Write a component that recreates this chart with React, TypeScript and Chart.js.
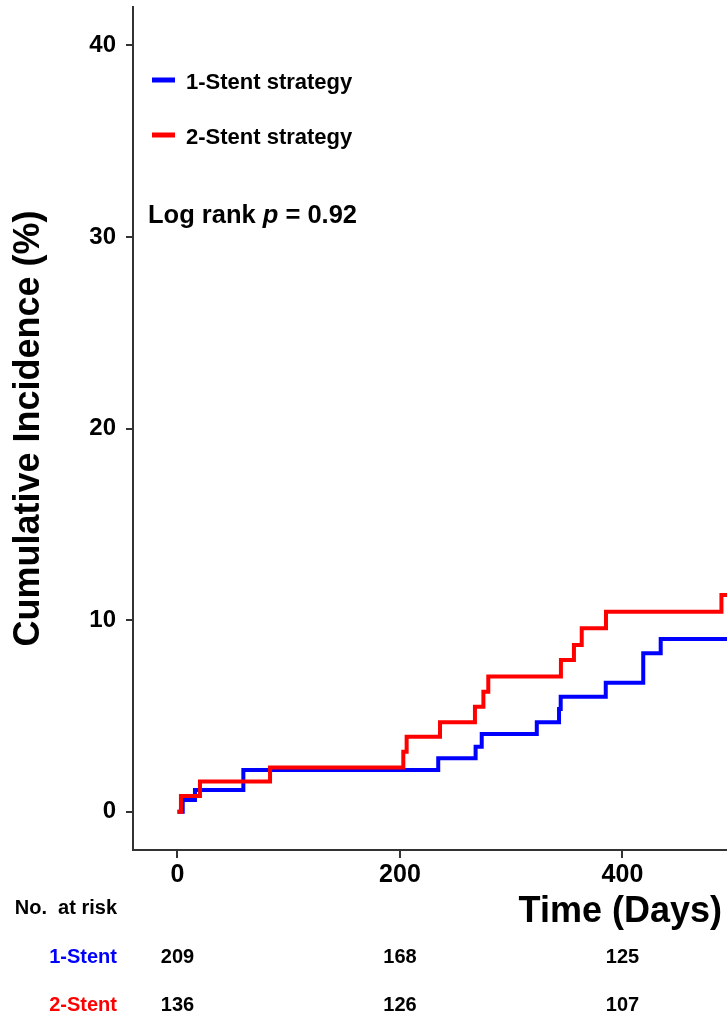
import React, { useEffect, useRef } from "react";
import { Chart, registerables } from "chart.js";

Chart.register(...registerables);

// ---- data ----
const seriesLabels = ["1-Stent strategy", "2-Stent strategy"];
const seriesColors = ["#0000FF", "#FF0000"];

const oneStentDays = [0, 4.7, 15.7, 59.2, 234.4, 268, 273.5, 323, 343, 344.5, 385, 418.7, 434.4, 494];
const oneStentPct = [0, 0.61, 1.13, 2.18, 2.79, 3.39, 4.05, 4.67, 5.36, 6.0, 6.73, 8.27, 9.01, 9.01];

const twoStentDays = [0, 3.1, 20.2, 83.2, 203, 206, 236, 267.4, 275, 279.4, 344.7, 356.4, 363.4, 385.2, 489, 494];
const twoStentPct = [0, 0.82, 1.57, 2.3, 3.13, 3.91, 4.67, 5.48, 6.26, 7.05, 7.92, 8.7, 9.57, 10.44, 11.31, 11.31];

const xTickValues = [0, 200, 400];
const yTickValues = [0, 10, 20, 30, 40];

const riskDays = [0, 200, 400];
const riskGroups = ["1-Stent", "2-Stent"];
const riskOneStent = [209, 168, 125];
const riskTwoStent = [136, 126, 107];

const pValue = "0.92";

const FONT = '"Liberation Sans", Arial, Helvetica, sans-serif';

const toPoints = (xs: number[], ys: number[]) => xs.map((x, i) => ({ x, y: ys[i] }));

const zeroPadding = (s: any) => {
  s.paddingTop = 0;
  s.paddingBottom = 0;
  s.paddingLeft = 0;
  s.paddingRight = 0;
};

const overlayPlugin = {
  id: "overlay",
  afterDraw(chart: any) {
    const ctx: CanvasRenderingContext2D = chart.ctx;
    const area = chart.chartArea;
    const xs = chart.scales.x;
    ctx.save();

    // legend
    const legendYs = [80, 135];
    chart.data.datasets.forEach((ds: any, i: number) => {
      ctx.strokeStyle = ds.borderColor;
      ctx.lineWidth = 5;
      ctx.lineCap = "butt";
      ctx.beginPath();
      ctx.moveTo(area.left + 19, legendYs[i]);
      ctx.lineTo(area.left + 42, legendYs[i]);
      ctx.stroke();
      ctx.fillStyle = "#000";
      ctx.font = `bold 22px ${FONT}`;
      ctx.textAlign = "left";
      ctx.textBaseline = "alphabetic";
      ctx.fillText(ds.label, area.left + 53, legendYs[i] + 8.5);
    });

    // log rank text
    let lx = area.left + 15;
    const ly = 222.7;
    ctx.fillStyle = "#000";
    ctx.textAlign = "left";
    ctx.font = `bold 25.5px ${FONT}`;
    ctx.fillText("Log rank ", lx, ly);
    lx += ctx.measureText("Log rank ").width;
    ctx.font = `italic bold 25.5px ${FONT}`;
    ctx.fillText("p", lx, ly);
    lx += ctx.measureText("p").width;
    ctx.font = `bold 25.5px ${FONT}`;
    ctx.fillText(" = " + pValue, lx, ly);

    // x axis title
    ctx.font = `bold 36px ${FONT}`;
    ctx.textAlign = "right";
    ctx.fillText("Time (Days)", area.right - 5, 921.5);

    // number at risk table
    ctx.font = `bold 20px ${FONT}`;
    ctx.textAlign = "right";
    ctx.fillStyle = "#000";
    ctx.fillText("No.  at risk", 117, 914);
    const rows = [riskOneStent, riskTwoStent];
    const rowY = [962.7, 1010.7];
    rows.forEach((vals, r) => {
      ctx.font = `bold 20px ${FONT}`;
      ctx.textAlign = "right";
      ctx.fillStyle = seriesColors[r];
      ctx.fillText(riskGroups[r], 117, rowY[r]);
      ctx.fillStyle = "#000";
      ctx.textAlign = "center";
      vals.forEach((v, j) => {
        ctx.fillText(String(v), xs.getPixelForValue(riskDays[j]), rowY[r]);
      });
    });

    ctx.restore();
  },
};

export default function App() {
  const ref = useRef<HTMLCanvasElement>(null);

  useEffect(() => {
    const canvas = ref.current;
    if (!canvas) return;
    const chart = new Chart(canvas, {
      type: "line",
      data: {
        datasets: [
          {
            label: seriesLabels[0],
            data: toPoints(oneStentDays, oneStentPct),
            borderColor: seriesColors[0],
            backgroundColor: seriesColors[0],
            borderWidth: 4,
            stepped: true,
            pointRadius: 0,
            fill: false,
            order: 1,
            borderJoinStyle: "miter",
          },
          {
            label: seriesLabels[1],
            data: toPoints(twoStentDays, twoStentPct),
            borderColor: seriesColors[1],
            backgroundColor: seriesColors[1],
            borderWidth: 4,
            stepped: true,
            pointRadius: 0,
            fill: false,
            order: 0,
            borderJoinStyle: "miter",
          },
        ],
      },
      options: {
        responsive: false,
        animation: false,
        layout: { padding: { top: 7, left: 0, right: 0, bottom: 0 } },
        plugins: {
          legend: { display: false },
          tooltip: { enabled: false },
          title: { display: false },
        },
        scales: {
          x: {
            type: "linear",
            min: -40,
            max: 494,
            afterBuildTicks: (s: any) => {
              s.ticks = xTickValues.map((value) => ({ value }));
            },
            afterFit: (s: any) => {
              s.height = 167;
              zeroPadding(s);
            },
            border: { display: true, color: "#333", width: 2 },
            grid: {
              display: true,
              drawOnChartArea: false,
              drawTicks: true,
              tickLength: 8,
              color: "#333",
              lineWidth: 2,
            },
            ticks: {
              color: "#000",
              padding: 2,
              maxRotation: 0,
              font: { family: FONT, size: 25, weight: "bold" },
            },
          },
          y: {
            type: "linear",
            min: -2,
            max: 42,
            afterBuildTicks: (s: any) => {
              s.ticks = yTickValues.map((value) => ({ value }));
            },
            afterFit: (s: any) => {
              s.width = 133;
              zeroPadding(s);
            },
            border: { display: true, color: "#333", width: 2 },
            grid: {
              display: true,
              drawOnChartArea: false,
              drawTicks: true,
              tickLength: 7,
              color: "#333",
              lineWidth: 2,
            },
            ticks: {
              color: "#000",
              padding: 10,
              font: { family: FONT, size: 24, weight: "bold" },
            },
            title: {
              display: true,
              text: "Cumulative Incidence (%)",
              color: "#000",
              font: { family: FONT, size: 36, weight: "bold" },
              padding: { top: 7, bottom: 0 },
            },
          },
        },
      },
      plugins: [overlayPlugin],
    } as any);
    return () => chart.destroy();
  }, []);

  return (
    <div
      style={{
        position: "absolute",
        left: 0,
        top: 0,
        width: 727,
        height: 1017,
        background: "#fff",
        overflow: "hidden",
      }}
    >
      <canvas ref={ref} width={727} height={1017} style={{ display: "block", width: 727, height: 1017 }} />
    </div>
  );
}
